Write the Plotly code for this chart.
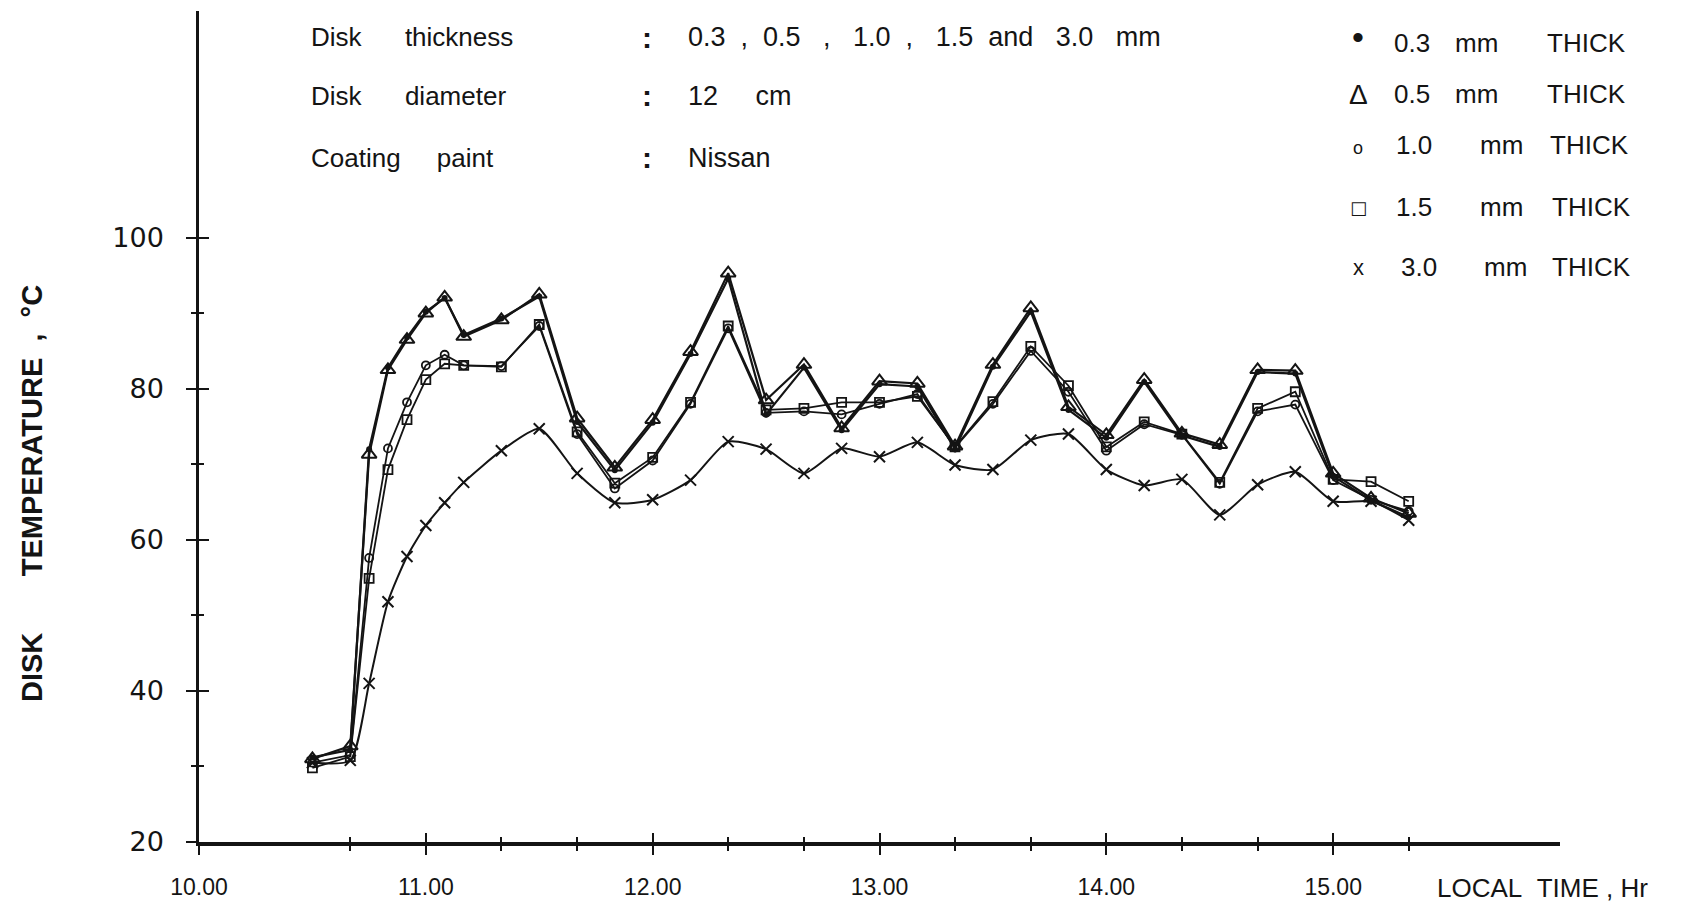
import plotly.graph_objects as go

# ---------------- data ----------------
times = [10.5, 10.667, 10.75, 10.833, 10.917, 11.0, 11.083, 11.167, 11.333, 11.5,
         11.667, 11.833, 12.0, 12.167, 12.333, 12.5, 12.667, 12.833, 13.0, 13.167,
         13.333, 13.5, 13.667, 13.833, 14.0, 14.167, 14.333, 14.5, 14.667, 14.833,
         15.0, 15.167, 15.333]

t_03 = [31.2, 32.2, 72.0, 82.8, 86.8, 90.2, 92.0, 87.1, 89.3, 92.2,
        75.6, 69.2, 75.5, 84.6, 94.6, 76.6, 82.8, 74.5, 80.6, 80.3,
        72.0, 82.9, 90.2, 77.2, 73.5, 80.9, 73.8, 72.3, 82.2, 82.0,
        68.4, 65.2, 63.0]
t_05 = [31.0, 32.7, 71.3, 82.5, 86.5, 90.0, 92.1, 86.9, 89.1, 92.5,
        76.1, 69.6, 75.9, 84.9, 95.3, 78.5, 83.2, 74.8, 81.0, 80.7,
        72.4, 83.2, 90.7, 77.6, 73.9, 81.2, 74.1, 72.6, 82.5, 82.4,
        68.8, 65.5, 63.5]
t_10 = [30.5, 31.5, 57.6, 72.1, 78.2, 83.1, 84.5, 83.1, 83.0, 88.3,
        74.0, 66.8, 70.5, 78.0, 88.0, 76.8, 77.0, 76.6, 78.0, 79.3,
        72.2, 78.0, 85.0, 79.6, 71.8, 75.3, 73.9, 67.4, 77.0, 77.9,
        67.9, 65.3, 63.8]
t_15 = [29.8, 31.3, 54.9, 69.3, 75.9, 81.2, 83.3, 83.1, 82.9, 88.5,
        74.3, 67.5, 70.9, 78.2, 88.3, 77.2, 77.4, 78.2, 78.2, 79.0,
        72.3, 78.3, 85.6, 80.4, 72.3, 75.6, 74.0, 67.6, 77.4, 79.6,
        68.0, 67.7, 65.1]
t_30 = [30.5, 30.8, 41.0, 51.8, 57.8, 61.9, 64.9, 67.6, 71.8, 74.7,
        68.8, 64.9, 65.3, 67.9, 73.0, 72.0, 68.8, 72.1, 71.0, 72.9,
        69.9, 69.3, 73.2, 74.0, 69.3, 67.2, 68.0, 63.3, 67.3, 69.0,
        65.1, 65.1, 62.6]

x_major = [10, 11, 12, 13, 14, 15]
x_major_text = ["10.00", "11.00", "12.00", "13.00", "14.00", "15.00"]
x_minor = [10.667, 11.333, 11.667, 12.333, 12.667, 13.333, 13.667, 14.333, 14.667, 15.333]
y_major = [20, 40, 60, 80, 100]
y_minor = [30, 50, 70, 90]

NB = "\u00a0"
header_labels = ["Disk" + NB * 6 + "thickness",
                 "Disk" + NB * 6 + "diameter",
                 "Coating" + NB * 5 + "paint"]
header_values = ["0.3" + NB * 2 + "," + NB * 2 + "0.5" + NB * 3 + "," + NB * 3 + "1.0" + NB * 2 + "," + NB * 3
                 + "1.5" + NB * 2 + "and" + NB * 3 + "3.0" + NB * 3 + "mm",
                 "12" + NB * 5 + "cm",
                 "Nissan"]
legend_symbols = ["\u2022", "\u0394", "o", "\u25a1", "x"]
legend_values = ["0.3", "0.5", "1.0", "1.5", "3.0"]
legend_unit = "mm"
legend_word = "THICK"

# ---------------- styling ----------------
INK = "#141414"
F_TXT = "Liberation Sans, Arial, sans-serif"
F_NUM = "DejaVu Sans, Verdana, sans-serif"

L, R, T, B = 199, 122, 11, 61
W, H = 1682, 903
PW, PH = W - L - R, H - T - B


def px(X):
    return (X - L) / PW


def py(Y):
    return (H - B - Y) / PH


fig = go.Figure()

fig.add_trace(go.Scatter(x=times, y=t_30, mode="lines+markers", name="3.0 mm THICK",
                         line=dict(color=INK, width=2, shape="spline", smoothing=0.6),
                         marker=dict(symbol="x-thin", size=11, line=dict(color=INK, width=2))))
fig.add_trace(go.Scatter(x=times, y=t_15, mode="lines+markers", name="1.5 mm THICK",
                         line=dict(color=INK, width=1.8),
                         marker=dict(symbol="square-open", size=9, color=INK, line=dict(width=1.8))))
fig.add_trace(go.Scatter(x=times, y=t_10, mode="lines+markers", name="1.0 mm THICK",
                         line=dict(color=INK, width=1.8),
                         marker=dict(symbol="circle-open", size=8, color=INK, line=dict(width=1.8))))
fig.add_trace(go.Scatter(x=times, y=t_05, mode="lines+markers", name="0.5 mm THICK",
                         line=dict(color=INK, width=2.2),
                         marker=dict(symbol="triangle-up-open", size=13, color=INK, line=dict(width=2))))
fig.add_trace(go.Scatter(x=times, y=t_03, mode="lines+markers", name="0.3 mm THICK",
                         line=dict(color=INK, width=2.2),
                         marker=dict(symbol="circle", size=6, color=INK)))
# invisible carrier so the overlay axes (inner halves of the crossing ticks) get drawn
fig.add_trace(go.Scatter(x=times, y=t_30, xaxis="x2", yaxis="y2", mode="lines",
                         line=dict(width=0), opacity=0, hoverinfo="skip", showlegend=False))

annotations = []
rows_y = [37.5, 95.5, 158]
for lab, val, yy in zip(header_labels, header_values, rows_y):
    annotations.append(dict(x=px(309), y=py(yy), text=lab, xanchor="left", yanchor="middle"))
    annotations.append(dict(x=px(647), y=py(yy), text=":", xanchor="center", yanchor="middle",
                            font=dict(family=F_TXT, size=30, color=INK, weight="bold")))
    annotations.append(dict(x=px(686), y=py(yy), text=val, xanchor="left", yanchor="middle",
                            font=dict(family=F_TXT, size=27, color=INK)))

leg_y = [43, 94, 145, 207, 267]
sym_font = [F_TXT, F_TXT, F_TXT, F_NUM, F_TXT]
sym_size = [34, 28, 18, 18, 22]
sym_shift = [6, 0, -3, 0, 0]
val_x = [1392, 1392, 1394, 1394, 1399]
unit_x = [1453, 1453, 1478, 1478, 1482]
word_x = [1545, 1545, 1548, 1550, 1550]
for i in range(5):
    annotations.append(dict(x=px(1358), y=py(leg_y[i]), text=legend_symbols[i], xanchor="center",
                            yanchor="middle", yshift=sym_shift[i],
                            font=dict(family=sym_font[i], size=sym_size[i], color=INK)))
    annotations.append(dict(x=px(val_x[i]), y=py(leg_y[i]), text=legend_values[i], xanchor="left", yanchor="middle"))
    annotations.append(dict(x=px(unit_x[i]), y=py(leg_y[i]), text=legend_unit, xanchor="left", yanchor="middle"))
    annotations.append(dict(x=px(word_x[i]), y=py(leg_y[i]), text=legend_word, xanchor="left", yanchor="middle"))

annotations.append(dict(x=px(1435), y=py(888), text="LOCAL" + NB * 2 + "TIME" + NB + "," + NB + "Hr",
                        xanchor="left", yanchor="middle", font=dict(family=F_TXT, size=26, color=INK)))
annotations.append(dict(x=px(32), y=py(494), text="DISK" + NB * 7 + "TEMPERATURE" + NB * 2 + "," + NB * 2 + "°C",
                        textangle=-90, xanchor="center", yanchor="middle",
                        font=dict(family=F_TXT, size=29, color=INK, weight="bold")))

for a in annotations:
    a.setdefault("xref", "paper")
    a.setdefault("yref", "paper")
    a.setdefault("showarrow", False)
    a.setdefault("font", dict(family=F_TXT, size=26, color=INK))

common_x = dict(range=[10, 16], showgrid=False, zeroline=False, tickvals=x_major, automargin=False,
                tickcolor=INK, tickwidth=2, ticklen=9)
common_y = dict(range=[20, 130], showgrid=False, zeroline=False, tickvals=y_major, automargin=False,
                tickcolor=INK, tickwidth=2, ticklen=10)

fig.update_layout(
    width=W, height=H,
    margin=dict(l=L, r=R, t=T, b=B, autoexpand=False),
    paper_bgcolor="white", plot_bgcolor="white",
    showlegend=False,
    xaxis=dict(**common_x, showline=True, linecolor=INK, linewidth=4, ticks="outside",
               ticktext=x_major_text, tickfont=dict(family=F_TXT, size=23, color=INK),
               ticklabelstandoff=12,
               minor=dict(tickvals=x_minor, ticks="outside", ticklen=5, tickwidth=2, tickcolor=INK)),
    xaxis2=dict(**common_x, overlaying="x", anchor="y", side="bottom", showline=False,
                ticks="inside", showticklabels=False,
                minor=dict(tickvals=x_minor, ticks="inside", ticklen=5, tickwidth=2, tickcolor=INK)),
    yaxis=dict(**common_y, showline=True, linecolor=INK, linewidth=2.5, ticks="outside",
               tickfont=dict(family=F_NUM, size=27, color=INK), ticklabelstandoff=17,
               minor=dict(tickvals=y_minor, ticks="outside", ticklen=5, tickwidth=2, tickcolor=INK)),
    yaxis2=dict(**common_y, overlaying="y", anchor="x", side="left", showline=False,
                ticks="inside", showticklabels=False,
                minor=dict(tickvals=y_minor, ticks="inside", ticklen=5, tickwidth=2, tickcolor=INK)),
    annotations=annotations,
)

fig.write_html("out.html", config={"displayModeBar": False},
               post_script="document.body.style.margin='0px';document.body.style.overflow='hidden';")
